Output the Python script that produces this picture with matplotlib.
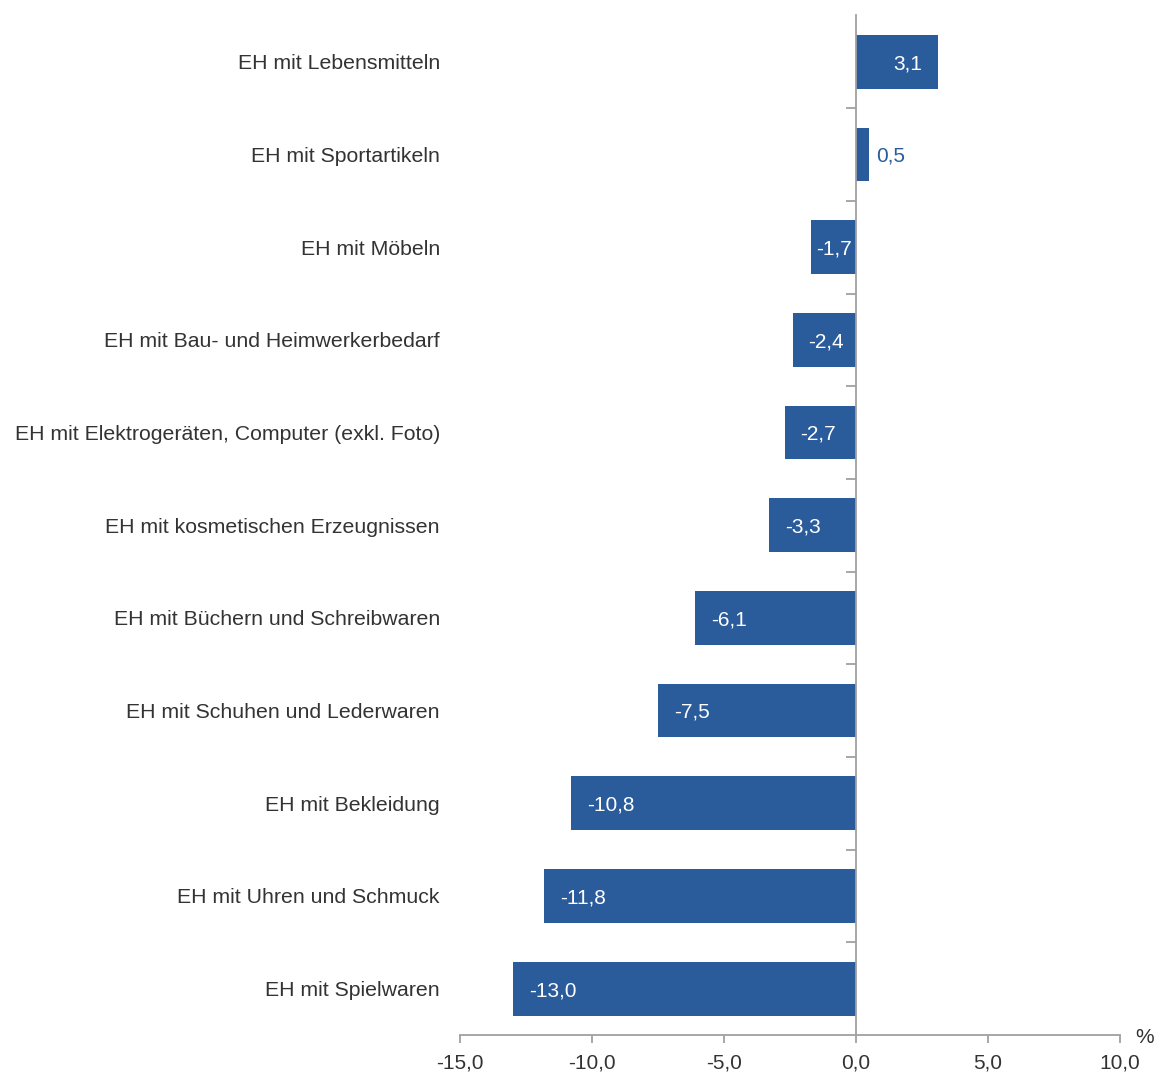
import matplotlib.pyplot as plt
import numpy as np
from matplotlib import rcParams
from matplotlib.transforms import blended_transform_factory

rcParams['font.family'] = ['Liberation Sans', 'DejaVu Sans']
rcParams['font.size'] = 15

# Daten
kategorien = ['EH mit Lebensmitteln', 'EH mit Sportartikeln', 'EH mit Möbeln',
              'EH mit Bau- und Heimwerkerbedarf',
              'EH mit Elektrogeräten, Computer (exkl. Foto)',
              'EH mit kosmetischen Erzeugnissen', 'EH mit Büchern und Schreibwaren',
              'EH mit Schuhen und Lederwaren', 'EH mit Bekleidung',
              'EH mit Uhren und Schmuck', 'EH mit Spielwaren']
werte = [3.1, 0.5, -1.7, -2.4, -2.7, -3.3, -6.1, -7.5, -10.8, -11.8, -13.0]
x_ticks = [-15, -10, -5, 0, 5, 10]

blau = '#2A5B9B'
grau = '#A0A0A0'
text_farbe = '#333333'
fs = 15

fig = plt.figure(figsize=(11.62, 10.72), dpi=100)
ax = fig.add_axes([460 / 1162, 1 - 1035 / 1072, 660 / 1162, 1019.5 / 1072])

pos = np.arange(len(kategorien))
ax.barh(pos, werte, height=0.58, color=blau)

ax.set_xlim(-15, 10)
ax.set_ylim(len(kategorien) - 0.5, -0.5)

# Achsen
for s in ['top', 'right']:
    ax.spines[s].set_visible(False)
ax.spines['left'].set_position(('data', 0))
ax.spines['left'].set_color(grau)
ax.spines['left'].set_linewidth(1.3)
ax.spines['bottom'].set_color(grau)
ax.spines['bottom'].set_linewidth(1.3)

ax.set_yticks(pos)
ax.set_yticklabels([])
ax.tick_params(axis='y', which='major', length=0)
ax.set_yticks(pos[1:] - 0.5, minor=True)
ax.tick_params(axis='y', which='minor', length=7, width=1.3, color=grau, direction='out')

ax.set_xticks(x_ticks)
ax.set_xticklabels([f'{t:.1f}'.replace('.', ',') for t in x_ticks])
ax.tick_params(axis='x', length=6, width=1.3, color=grau, labelcolor=text_farbe,
               labelsize=fs, pad=7)

# Kategorienbeschriftungen
trans = blended_transform_factory(ax.transAxes, ax.transData)
for p, k in zip(pos, kategorien):
    ax.text(-20 / 660, p + 0.02, k, transform=trans, ha='right', va='center',
            color=text_farbe, fontsize=15.3)

# Wertebeschriftungen
for p, v in zip(pos, werte):
    lab = f'{v:.1f}'.replace('.', ',')
    if v >= 0 and v < 1:
        ax.text(v + 0.27, p + 0.02, lab, ha='left', va='center', color=blau, fontsize=fs)
    elif v >= 0:
        ax.text(v - 0.6, p + 0.02, lab, ha='right', va='center', color='white', fontsize=fs)
    elif v > -2:
        ax.text(v / 2, p + 0.02, lab, ha='center', va='center', color='white', fontsize=fs)
    else:
        ax.text(v + 0.6, p + 0.02, lab, ha='left', va='center', color='white', fontsize=fs)

ax.text(1.0 + 25 / 660, -0.002, '%', transform=ax.transAxes, ha='center', va='center',
        color=text_farbe, fontsize=fs)

plt.savefig('out.png', dpi=100)
plt.close()
